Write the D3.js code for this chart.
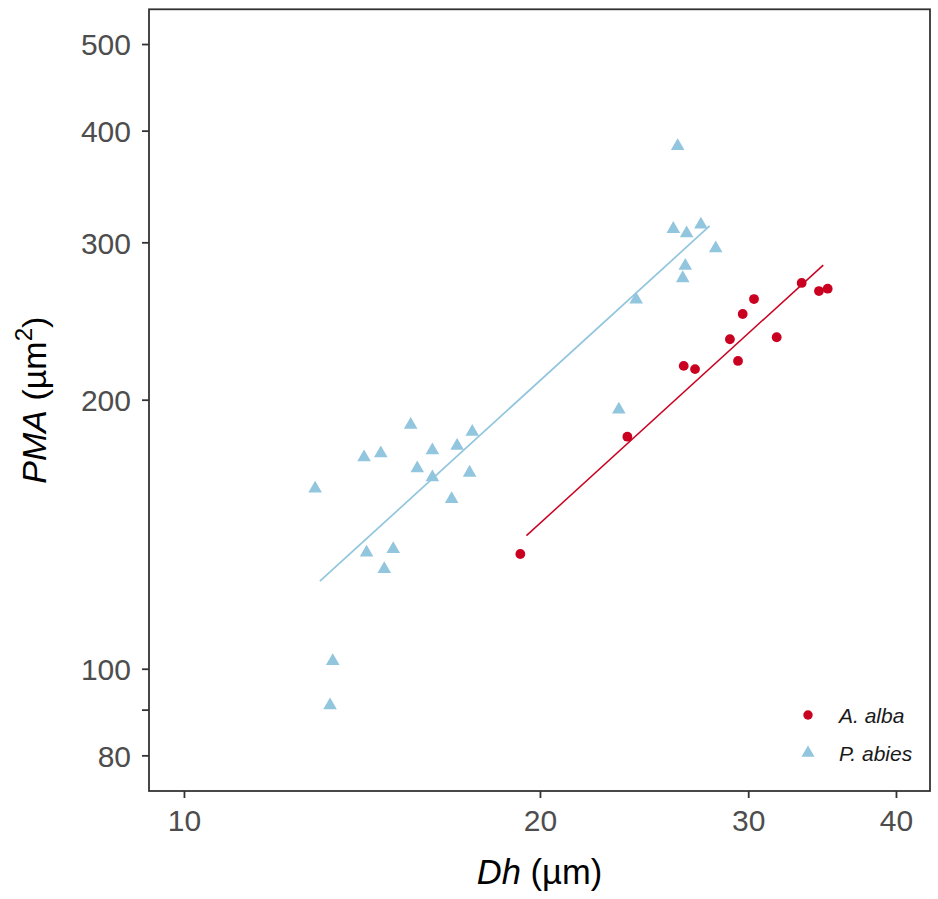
<!DOCTYPE html>
<html>
<head>
<meta charset="utf-8">
<script src="https://cdn.jsdelivr.net/npm/d3@7"></script>
<style>
  body { margin: 0; background: #fff; }
  svg { display: block; font-family: "Liberation Sans", Arial, sans-serif; }
</style>
</head>
<body>
<svg id="chart" width="938" height="899"></svg>
<script>
// A. alba points (Dh in um, PMA in um^2)
var albaDh  = [19.25, 23.71, 26.46, 27.05, 28.95, 29.41, 29.68, 30.34, 31.71, 33.29, 34.43, 35.02];
var albaPMA = [134.4, 181.8, 218.2, 216.4, 233.7, 221.0, 249.4, 259.2, 234.9, 270.2, 264.6, 266.2];

// P. abies points
var abiesDh  = [15.55, 14.20, 14.67, 16.22, 17.53, 17.02, 12.91, 15.75, 16.22, 17.44, 16.84, 14.27, 15.03,
                14.77, 13.36, 13.29, 26.15, 25.93, 26.61, 27.36, 28.16, 26.54, 26.41, 24.12, 23.32];
var abiesPMA = [187.4, 172.4, 174.2, 175.5, 184.1, 177.6, 159.1, 167.6, 163.7, 165.7, 154.8, 134.9, 136.1,
                129.3, 102.0, 91.0, 384.5, 310.5, 307.1, 314.0, 295.4, 282.3, 273.5, 258.8, 195.0];

// fitted lines (end points)
var albaFitDh  = [19.48, 34.72];
var albaFitPMA = [140.9, 282.9];
var abiesFitDh  = [13.03, 27.83];
var abiesFitPMA = [125.3, 312.9];

var xTicks = [10, 20, 30, 40];
var yTicks = [80, 90, 100, 200, 300, 400, 500];
var yTickLabels = ["80", "", "100", "200", "300", "400", "500"];

var species = ["A. alba", "P. abies"];
var colors = ["#CA0020", "#92C5DE"];

var margin = {top: 9.3, right: 8, bottom: 108, left: 149};
var W = 938, H = 899;
var w = W - margin.left - margin.right,
    h = H - margin.top - margin.bottom;

var svg = d3.select("#chart");
var g = svg.append("g").attr("transform", "translate(" + margin.left + "," + margin.top + ")");

var x = d3.scaleLog().domain([9.342, 42.74]).range([0, w]);
var y = d3.scaleLog().domain([72.98, 546.8]).range([h, 0]);

// axes
var xAxis = d3.axisBottom(x).tickValues(xTicks).tickFormat(d3.format("d")).tickSize(7).tickPadding(0);
var yAxis = d3.axisLeft(y).tickValues(yTicks)
    .tickFormat(function(d, i) { return yTickLabels[i]; }).tickSize(7).tickPadding(0);

var gx = g.append("g").attr("transform", "translate(0," + h + ")").call(xAxis);
var gy = g.append("g").call(yAxis);

[gx, gy].forEach(function(ax) {
  ax.select(".domain").remove();
  ax.selectAll(".tick line").attr("stroke", "#333").attr("stroke-width", 1.8);
  ax.selectAll(".tick text").attr("fill", "#4D4D4D").attr("font-size", 30)
    .attr("font-family", "Liberation Sans, Arial, sans-serif");
});
gx.selectAll(".tick text").attr("dy", null).attr("y", 39.5);
gy.selectAll(".tick text").attr("x", -18).attr("dy", "0.36em");

// lines
var line = d3.line().x(function(d) { return x(d[0]); }).y(function(d) { return y(d[1]); });
g.append("path")
  .datum(abiesFitDh.map(function(d, i) { return [d, abiesFitPMA[i]]; }))
  .attr("d", line).attr("fill", "none").attr("stroke", colors[1]).attr("stroke-width", 1.7);
g.append("path")
  .datum(albaFitDh.map(function(d, i) { return [d, albaFitPMA[i]]; }))
  .attr("d", line).attr("fill", "none").attr("stroke", colors[0]).attr("stroke-width", 1.5);

// points
var tri = d3.symbol().type(d3.symbolTriangle).size(80);
g.selectAll(".abies")
  .data(abiesDh.map(function(d, i) { return [d, abiesPMA[i]]; }))
  .enter().append("path")
  .attr("class", "abies")
  .attr("d", tri)
  .attr("transform", function(d) { return "translate(" + x(d[0]) + "," + y(d[1]) + ")"; })
  .attr("fill", colors[1]);

g.selectAll(".alba")
  .data(albaDh.map(function(d, i) { return [d, albaPMA[i]]; }))
  .enter().append("circle")
  .attr("class", "alba")
  .attr("cx", function(d) { return x(d[0]); })
  .attr("cy", function(d) { return y(d[1]); })
  .attr("r", 4.9)
  .attr("fill", colors[0]);

// panel border
g.append("rect").attr("width", w).attr("height", h)
  .attr("fill", "none").attr("stroke", "#333").attr("stroke-width", 1.8);

// legend
var leg = svg.append("g").attr("transform", "translate(808,715)");
leg.append("circle").attr("cx", 0).attr("cy", 0).attr("r", 4.7).attr("fill", colors[0]);
leg.append("path").attr("d", d3.symbol().type(d3.symbolTriangle).size(74))
  .attr("transform", "translate(0,38)").attr("fill", colors[1]);
species.forEach(function(s, i) {
  leg.append("text").attr("x", 31).attr("y", 8 + i * 38)
    .attr("font-size", 21).attr("font-style", "italic").attr("fill", "#1a1a1a").text(s);
});

// axis titles
var xt = svg.append("text").attr("x", margin.left + w / 2).attr("y", 884)
  .attr("text-anchor", "middle").attr("font-size", 34.5).attr("fill", "#000");
xt.append("tspan").attr("font-style", "italic").text("Dh");
xt.append("tspan").text(" (µm)");

var yt = svg.append("text")
  .attr("transform", "translate(46," + (margin.top + h / 2) + ") rotate(-90)")
  .attr("text-anchor", "middle").attr("font-size", 34).attr("fill", "#000");
yt.append("tspan").attr("font-style", "italic").text("PMA");
yt.append("tspan").text(" (µm");
yt.append("tspan").attr("font-size", 24).attr("dy", -14).text("2");
yt.append("tspan").attr("dy", 14).text(")");
</script>
</body>
</html>
